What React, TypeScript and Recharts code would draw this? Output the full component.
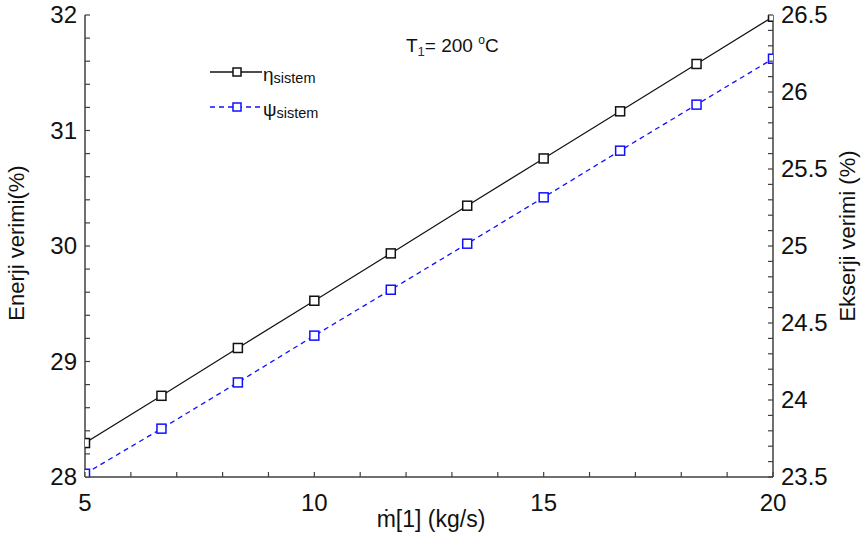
import { Line, LineChart, XAxis, YAxis } from "recharts";

const xValues = [5, 6.667, 8.333, 10, 11.667, 13.333, 15, 16.667, 18.333, 20];
const etaSistem = [28.294, 28.703, 29.117, 29.526, 29.936, 30.349, 30.758, 31.166, 31.576, 31.985];
const psiSistem = [23.521, 23.814, 24.114, 24.418, 24.716, 25.015, 25.316, 25.619, 25.918, 26.216];

const xTicks = [5, 6, 7, 8, 9, 10, 11, 12, 13, 14, 15, 16, 17, 18, 19, 20];
const xTickLabels = [5, 10, 15, 20];
const leftTicks = [
  28, 28.2, 28.4, 28.6, 28.8, 29, 29.2, 29.4, 29.6, 29.8, 30, 30.2, 30.4, 30.6, 30.8, 31, 31.2,
  31.4, 31.6, 31.8, 32
];
const leftTickLabels = [28, 29, 30, 31, 32];
const rightTicks = [
  23.5, 23.6, 23.7, 23.8, 23.9, 24, 24.1, 24.2, 24.3, 24.4, 24.5, 24.6, 24.7, 24.8, 24.9, 25,
  25.1, 25.2, 25.3, 25.4, 25.5, 25.6, 25.7, 25.8, 25.9, 26, 26.1, 26.2, 26.3, 26.4, 26.5
];
const rightTickLabels = [23.5, 24, 24.5, 25, 25.5, 26, 26.5];

const chartData = xValues.map((x, i) => ({
  x,
  eta: etaSistem[i],
  psi: psiSistem[i]
}));

const FONT = '"Liberation Sans", Arial, sans-serif';
const FRAME = "#404040";
const BLUE = "#1010ff";

type Side = "bottom" | "top" | "left" | "right";

function AxisTick(props: any) {
  const { x, y, payload, side, labels } = props as {
    x: number;
    y: number;
    payload: { value: number };
    side: Side;
    labels: number[];
  };
  const value = payload.value;
  const show = labels.some((l) => Math.abs(l - value) < 1e-6);
  const len = 5;
  if (side === "bottom") {
    return (
      <g>
        <line x1={x} y1={y} x2={x} y2={y - len} stroke={FRAME} strokeWidth={1.2} />
        {show && (
          <text x={x} y={y + 34} textAnchor="middle" fontSize={24} fontFamily={FONT} fill="#111">
            {value}
          </text>
        )}
      </g>
    );
  }
  if (side === "top") {
    return <line x1={x} y1={y} x2={x} y2={y + len} stroke={FRAME} strokeWidth={1.2} />;
  }
  if (side === "left") {
    return (
      <g>
        <line x1={x} y1={y} x2={x + len} y2={y} stroke={FRAME} strokeWidth={1.2} />
        {show && (
          <text x={x - 8} y={y + 8} textAnchor="end" fontSize={24} fontFamily={FONT} fill="#111">
            {value}
          </text>
        )}
      </g>
    );
  }
  return (
    <g>
      <line x1={x} y1={y} x2={x - len} y2={y} stroke={FRAME} strokeWidth={1.2} />
      {show && (
        <text x={x + 8} y={y + 8} textAnchor="start" fontSize={24} fontFamily={FONT} fill="#111">
          {value}
        </text>
      )}
    </g>
  );
}

function SquareDot(props: any) {
  const { cx, cy, stroke, index } = props;
  if (cx == null || cy == null) return null;
  return (
    <rect
      key={`dot-${index}`}
      x={cx - 4.5}
      y={cy - 4.5}
      width={9}
      height={9}
      fill="#fff"
      stroke={stroke}
      strokeWidth={1.5}
    />
  );
}

function LegendEntry({ y, color, dash, symbol }: { y: number; color: string; dash?: string; symbol: string }) {
  return (
    <g>
      <line x1={210} y1={y} x2={262} y2={y} stroke={color} strokeWidth={1.3} strokeDasharray={dash} />
      <rect x={233} y={y - 4} width={8} height={8} fill="#fff" stroke={color} strokeWidth={1.5} />
      <text x={263} y={y + 9} fontFamily={FONT} fill="#111">
        <tspan fontSize={19}>{symbol}</tspan>
        <tspan fontSize={14.5} dy={2}>sistem</tspan>
      </text>
    </g>
  );
}

export default function App() {
  return (
    <div style={{ position: "absolute", left: 0, top: 0, background: "#fff" }}>
      <LineChart
        width={861}
        height={541}
        data={chartData}
        margin={{ top: 15, right: 0, bottom: 0, left: 0 }}
      >
        <XAxis
          dataKey="x"
          type="number"
          domain={[5, 20]}
          ticks={xTicks}
          interval={0}
          allowDataOverflow
          height={64}
          tickSize={0}
          tickMargin={0}
          tickLine={false}
          axisLine={{ stroke: FRAME, strokeWidth: 1.5 }}
          tick={(p: any) => <AxisTick {...p} side="bottom" labels={xTickLabels} />}
        />
        <XAxis
          xAxisId="top"
          orientation="top"
          dataKey="x"
          type="number"
          domain={[5, 20]}
          ticks={xTicks}
          interval={0}
          allowDataOverflow
          height={0}
          tickSize={0}
          tickMargin={0}
          tickLine={false}
          axisLine={{ stroke: FRAME, strokeWidth: 1.5 }}
          tick={(p: any) => <AxisTick {...p} side="top" labels={[]} />}
        />
        <YAxis
          yAxisId="left"
          type="number"
          domain={[28, 32]}
          ticks={leftTicks}
          interval={0}
          allowDataOverflow
          width={85}
          tickSize={0}
          tickMargin={0}
          tickLine={false}
          axisLine={{ stroke: FRAME, strokeWidth: 1.5 }}
          tick={(p: any) => <AxisTick {...p} side="left" labels={leftTickLabels} />}
        />
        <YAxis
          yAxisId="right"
          orientation="right"
          type="number"
          domain={[23.5, 26.5]}
          ticks={rightTicks}
          interval={0}
          allowDataOverflow
          width={88}
          tickSize={0}
          tickMargin={0}
          tickLine={false}
          axisLine={{ stroke: FRAME, strokeWidth: 1.5 }}
          tick={(p: any) => <AxisTick {...p} side="right" labels={rightTickLabels} />}
        />
        <Line
          yAxisId="left"
          dataKey="eta"
          stroke="#111"
          strokeWidth={1.2}
          dot={(p: any) => <SquareDot {...p} key={`eta-${p.index}`} />}
          isAnimationActive={false}
        />
        <Line
          yAxisId="right"
          dataKey="psi"
          stroke={BLUE}
          strokeWidth={1.3}
          strokeDasharray="5 4"
          dot={(p: any) => <SquareDot {...p} key={`psi-${p.index}`} />}
          isAnimationActive={false}
        />

        <text
          transform="translate(24,243) rotate(-90)"
          textAnchor="middle"
          fontSize={22}
          fontFamily={FONT}
          fill="#111"
        >
          Enerji verimi(%)
        </text>
        <text
          transform="translate(855,236) rotate(-90)"
          textAnchor="middle"
          fontSize={22}
          fontFamily={FONT}
          fill="#111"
        >
          Ekserji verimi (%)
        </text>
        <text x={431} y={527} textAnchor="middle" fontSize={23} fontFamily={FONT} fill="#111">
          ṁ[1] (kg/s)
        </text>

        <text x={406} y={52} fontSize={19} fontFamily={FONT} fill="#111">
          T
          <tspan fontSize={13} dy={4} fill="#3a1a6a">1</tspan>
          <tspan dy={-4}>= 200 </tspan>
          <tspan fontSize={12} dy={-8}>o</tspan>
          <tspan dy={8}>C</tspan>
        </text>

        <LegendEntry y={72} color="#111" symbol="η" />
        <LegendEntry y={107} color={BLUE} dash="5 4" symbol="ψ" />
      </LineChart>
    </div>
  );
}
